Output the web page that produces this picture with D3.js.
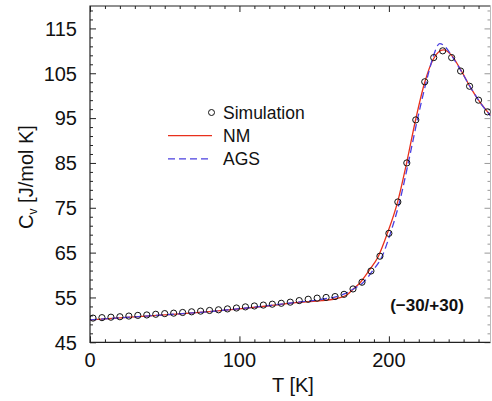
<!DOCTYPE html>
<html>
<head>
<meta charset="utf-8">
<script src="https://cdn.jsdelivr.net/npm/d3@7"></script>
<style>
  html, body { margin: 0; padding: 0; background: #fff; }
  svg { display: block; font-family: "Liberation Sans", Arial, Helvetica, sans-serif; }
</style>
</head>
<body>
<svg id="chart" width="492" height="401"></svg>
<script>
// Heat capacity vs temperature: simulation points and two model curves
const simT = [2, 8, 14, 20, 26, 32, 38, 44, 50, 56, 62, 68, 74, 80, 86, 92, 98, 104, 110, 116,
  122, 128, 134, 140, 146, 152, 158, 164, 170, 176, 182, 188, 194, 200, 206, 212, 218, 224,
  230, 236, 242, 248, 254, 260, 266];
const simCv = [50.4, 50.5, 50.6, 50.7, 50.85, 51.0, 51.1, 51.25, 51.4, 51.5, 51.65, 51.8, 51.95,
  52.1, 52.25, 52.45, 52.65, 52.9, 53.1, 53.3, 53.5, 53.7, 53.95, 54.3, 54.6, 54.85, 55.0, 55.2,
  55.7, 56.9, 58.4, 60.9, 64.2, 69.3, 76.3, 85.0, 94.6, 103.1, 108.5, 110.0, 108.5, 105.5, 102.1,
  99.0, 96.4];

const nmT  = [0, 20, 40, 60, 80, 100, 120, 140, 155, 163, 168, 172, 176, 181, 186.5, 193, 199,
  206, 212, 218, 224, 230, 236.5, 242, 248, 254, 260, 268];
const nmCv = [50.0, 50.45, 50.9, 51.35, 51.85, 52.45, 53.15, 53.9, 54.3, 54.6, 55.0, 55.6, 56.8,
  58.4, 60.9, 64.2, 69.3, 76.5, 85.2, 94.8, 103.0, 108.3, 110.2, 109.0, 105.8, 102.2, 99.0, 95.6];

const agsT  = [0, 20, 40, 60, 80, 100, 120, 140, 155, 165, 171, 176.2, 183, 189, 195.5, 201, 207.3,
  213.3, 219.3, 224.8, 229, 234, 238, 242, 248, 254, 260, 268];
const agsCv = [50.0, 50.45, 50.9, 51.35, 51.85, 52.5, 53.2, 54.0, 54.6, 55.2, 55.9, 56.9, 58.4,
  60.9, 64.2, 69.3, 76.5, 85.5, 95.0, 102.8, 108.0, 111.6, 110.8, 108.9, 105.7, 102.2, 99.0, 95.5];

const xMajor = [0, 100, 200];
const yMajor = [45, 55, 65, 75, 85, 95, 105, 115];
const xMinor = [10, 20, 30, 40, 50, 60, 70, 80, 90, 110, 120, 130, 140, 150, 160, 170, 180, 190,
  210, 220, 230, 240, 250, 260];
const yMinor = [47, 49, 51, 53, 57, 59, 61, 63, 67, 69, 71, 73, 77, 79, 81, 83, 87, 89, 91, 93,
  97, 99, 101, 103, 107, 109, 111, 113, 117, 119];

const legendItems = ["Simulation", "NM", "AGS"];
const annotation = "(\u221230/+30)";

const RED = "#e8301c";
const BLUE = "#4a3fe0";

const svg = d3.select("#chart");
const L = 90, R = 490.5, T = 6, B = 342.3;

const x = d3.scaleLinear().domain([0, 268]).range([L, R]);
const y = d3.scaleLinear().domain([45, 120]).range([B, T]);

// plotting area clip
svg.append("clipPath").attr("id", "plot")
  .append("rect").attr("x", L).attr("y", T).attr("width", R - L).attr("height", B - T);

// inward ticks on all four sides
function inTicks(axis, vals, len) {
  return axis.tickValues(vals).tickSize(-len).tickFormat("");
}
const frameColor = "#222";
const gB = svg.append("g").attr("transform", `translate(0,${B})`);
gB.call(inTicks(d3.axisBottom(x), xMinor, 3));
gB.append("g").call(inTicks(d3.axisBottom(x), xMajor, 6));
const gT = svg.append("g").attr("transform", `translate(0,${T})`);
gT.call(inTicks(d3.axisTop(x), xMinor, 3));
gT.append("g").call(inTicks(d3.axisTop(x), xMajor, 6));
const gL = svg.append("g").attr("transform", `translate(${L},0)`);
gL.call(inTicks(d3.axisLeft(y), yMinor, 3));
gL.append("g").call(inTicks(d3.axisLeft(y), yMajor, 6));
const gR = svg.append("g").attr("transform", `translate(${R},0)`).attr("class", "right");
gR.call(inTicks(d3.axisRight(y), yMinor, 3));
gR.append("g").call(inTicks(d3.axisRight(y), yMajor, 6));
svg.selectAll(".domain").remove();
svg.selectAll(".tick line").attr("stroke", frameColor).attr("stroke-width", 1);
gR.selectAll(".tick line").attr("stroke", "#999");

// frame
svg.append("path")
  .attr("d", `M${R},${T} L${L},${T} L${L},${B} L${R},${B}`)
  .attr("fill", "none").attr("stroke", frameColor).attr("stroke-width", 1.2);
svg.append("line").attr("x1", R).attr("x2", R).attr("y1", T).attr("y2", B)
  .attr("stroke", "#bbb").attr("stroke-width", 1);

// tick labels
svg.append("g").selectAll("text").data(xMajor).join("text")
  .attr("x", d => x(d)).attr("y", B + 25)
  .attr("text-anchor", "middle").attr("font-size", 20).attr("fill", "#111")
  .text(d => d);
svg.append("g").selectAll("text").data(yMajor).join("text")
  .attr("x", L - 13).attr("y", d => y(d) + 7.3)
  .attr("text-anchor", "end").attr("font-size", 20).attr("fill", "#111")
  .text(d => d);

// axis titles
svg.append("text").attr("x", 293).attr("y", 392)
  .attr("text-anchor", "middle").attr("font-size", 20).attr("fill", "#111")
  .text("T [K]");
const yt = svg.append("text")
  .attr("transform", "translate(33,177) rotate(-90)")
  .attr("text-anchor", "middle").attr("font-size", 20).attr("fill", "#111");
yt.append("tspan").text("C");
yt.append("tspan").attr("font-size", 12).attr("dy", 4).text("v");
yt.append("tspan").attr("dy", -4).text(" [J/mol K]");

// curves
const plot = svg.append("g").attr("clip-path", "url(#plot)");
const line = d3.line().x(d => x(d[0])).y(d => y(d[1])).curve(d3.curveMonotoneX);
const nm = nmT.map((t, i) => [t, nmCv[i]]);
const ags = agsT.map((t, i) => [t, agsCv[i]]);
plot.append("path").datum(nm).attr("d", line)
  .attr("fill", "none").attr("stroke", RED).attr("stroke-width", 1.3);
plot.append("path").datum(ags).attr("d", line)
  .attr("fill", "none").attr("stroke", BLUE).attr("stroke-width", 1.3)
  .attr("stroke-dasharray", "7,4");

// simulation points
plot.append("g").selectAll("circle").data(simT).join("circle")
  .attr("cx", d => x(d)).attr("cy", (d, i) => y(simCv[i])).attr("r", 3.1)
  .attr("fill", "none").attr("stroke", "#111").attr("stroke-width", 1);

// legend
const lg = svg.append("g");
const lx = 223, ly0 = 118.5, lstep = 23.2;
lg.append("circle").attr("cx", 211.5).attr("cy", ly0 - 6).attr("r", 3)
  .attr("fill", "none").attr("stroke", "#111").attr("stroke-width", 1);
lg.append("line").attr("x1", 168).attr("x2", 212).attr("y1", ly0 + lstep - 6).attr("y2", ly0 + lstep - 6)
  .attr("stroke", RED).attr("stroke-width", 1.3);
lg.append("line").attr("x1", 168).attr("x2", 212).attr("y1", ly0 + 2 * lstep - 6).attr("y2", ly0 + 2 * lstep - 6)
  .attr("stroke", BLUE).attr("stroke-width", 1.3).attr("stroke-dasharray", "7,4");
lg.selectAll("text").data(legendItems).join("text")
  .attr("x", lx).attr("y", (d, i) => ly0 + i * lstep)
  .attr("font-size", 17.5).attr("fill", "#111")
  .text(d => d);

// run label
svg.append("text").attr("x", 427).attr("y", 311)
  .attr("text-anchor", "middle").attr("font-size", 17).attr("font-weight", "bold").attr("fill", "#111")
  .text(annotation);
</script>
</body>
</html>
